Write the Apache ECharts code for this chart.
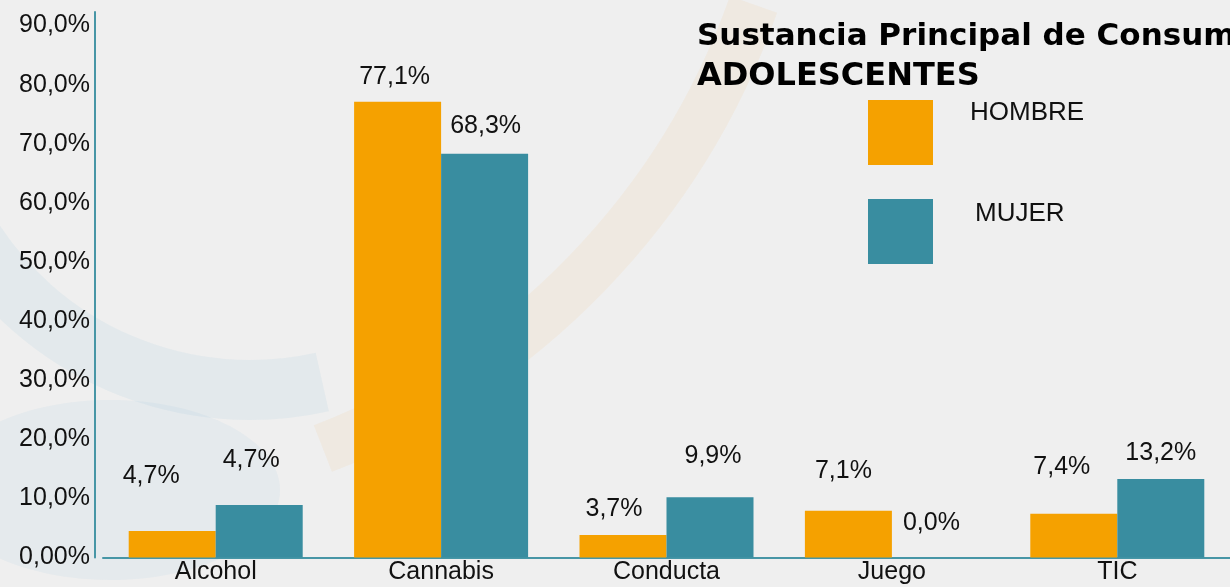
<!DOCTYPE html>
<html>
<head>
<meta charset="utf-8">
<script src="https://cdn.jsdelivr.net/npm/echarts@6/dist/echarts.min.js"></script>
<style>
  html, body { margin: 0; padding: 0; background: #efefef; }
  #chart { width: 1230px; height: 587px; }
</style>
</head>
<body>
<div id="chart"></div>
<script>
const categories = ['Alcohol', 'Cannabis', 'Conducta', 'Juego', 'TIC']
const seriesNames = ['HOMBRE', 'MUJER']
// bar heights as drawn in the picture (%)
const hombreValues = [4.5, 77.1, 3.8, 7.9, 7.4]
const mujerValues = [8.9, 68.3, 10.2, 0, 13.3]
// printed labels (they don't always agree with the bars)
const hombreLabels = ['4,7%', '77,1%', '3,7%', '7,1%', '7,4%']
const mujerLabels = ['4,7%', '68,3%', '9,9%', '0,0%', '13,2%']
const yTickLabels = ['0,00%', '10,0%', '20,0%', '30,0%', '40,0%', '50,0%', '60,0%', '70,0%', '80,0%', '90,0%']
const titleLine1 = 'Sustancia Principal de Consumo'
const titleLine2 = 'ADOLESCENTES'

// label nudges relative to the bar top [dx, rise of text centre]
const hombreNudge = [[-21, 55], [-3, 25], [-9, 26], [-5, 40], [-12, 47]]
const mujerNudge = [[-8, 45], [1, 28], [3, 42], [-4, 35], [0, 26]]

const orange = '#f5a100'
const teal = '#398da0'
const axisColor = '#4796a6'
const font = 'Liberation Sans, Arial, sans-serif'

function withLabels(values, labels, nudge) {
  return values.map((v, i) => ({
    value: v,
    label: { offset: [nudge[i][0], -(nudge[i][1] - 13)], formatter: labels[i] }
  }))
}

const chart = echarts.init(document.getElementById('chart'), null, { renderer: 'canvas' })

chart.setOption({
  backgroundColor: '#efefef',
  animation: false,
  // faint swirls of the slide background
  graphic: [
    {
      type: 'arc', z: -10, silent: true,
      shape: { cx: 54, cy: -243, r: 742, startAngle: 0.34, endAngle: 1.2 },
      style: { stroke: 'rgba(245, 165, 70, 0.08)', lineWidth: 50, fill: null }
    },
    {
      type: 'arc', z: -10, silent: true,
      shape: { cx: 250, cy: 60, r: 330, startAngle: 1.35, endAngle: 2.6 },
      style: { stroke: 'rgba(110, 175, 215, 0.09)', lineWidth: 60, fill: null }
    },
    {
      type: 'ellipse', z: -10, silent: true,
      shape: { cx: 110, cy: 490, rx: 170, ry: 90 },
      style: { fill: 'rgba(110, 175, 215, 0.08)' }
    }
  ],
  title: {
    text: titleLine1,
    subtext: titleLine2,
    left: 697,
    top: 21,
    itemGap: 9,
    padding: 0,
    textStyle: { fontFamily: 'DejaVu Sans', fontWeight: 'bold', fontSize: 31, color: '#000' },
    subtextStyle: { fontFamily: 'DejaVu Sans', fontWeight: 'bold', fontSize: 32, color: '#000' }
  },
  legend: {
    orient: 'vertical',
    left: 868,
    top: 100,
    padding: 0,
    itemWidth: 65,
    itemHeight: 65,
    itemGap: 33,
    icon: 'rect',
    selectedMode: false,
    data: seriesNames,
    formatter: (name) => (name === 'HOMBRE' ? '{h|' + name + '}\n{hg|}' : '{m|' + name + '}\n{mg|}'),
    textStyle: {
      fontFamily: font,
      fontSize: 26,
      color: '#111',
      rich: {
        h: { fontFamily: font, fontSize: 26, color: '#111', lineHeight: 28, padding: [0, 0, 0, 32] },
        hg: { height: 39, lineHeight: 39 },
        m: { fontFamily: font, fontSize: 26, color: '#111', lineHeight: 28, padding: [0, 0, 0, 37] },
        mg: { height: 35, lineHeight: 35 }
      }
    }
  },
  grid: { left: 103, top: 12, width: 1130, height: 545.5, containLabel: false },
  xAxis: {
    type: 'category',
    data: categories,
    axisLine: { lineStyle: { color: axisColor, width: 2 } },
    axisTick: { show: false },
    axisLabel: { color: '#111', fontFamily: font, fontSize: 25, margin: 2 }
  },
  yAxis: {
    type: 'value',
    min: 0,
    max: 92.3,
    interval: 10,
    offset: 8,
    axisLine: { show: true, lineStyle: { color: axisColor, width: 2 } },
    axisTick: { show: false },
    splitLine: { show: false },
    axisLabel: {
      color: '#111',
      fontFamily: font,
      fontSize: 25,
      margin: 5,
      showMaxLabel: false,
      formatter: (v) => (Math.abs(v % 10) < 1e-6 ? yTickLabels[Math.round(v / 10)] : '')
    }
  },
  series: [
    {
      name: seriesNames[0],
      type: 'bar',
      data: withLabels(hombreValues, hombreLabels, hombreNudge),
      barWidth: 87,
      barGap: '0%',
      itemStyle: { color: orange },
      label: { show: true, position: 'top', distance: 0, color: '#111', fontFamily: font, fontSize: 25 }
    },
    {
      name: seriesNames[1],
      type: 'bar',
      data: withLabels(mujerValues, mujerLabels, mujerNudge),
      barWidth: 87,
      barGap: '0%',
      itemStyle: { color: teal },
      label: { show: true, position: 'top', distance: 0, color: '#111', fontFamily: font, fontSize: 25 }
    }
  ]
})
</script>
</body>
</html>
